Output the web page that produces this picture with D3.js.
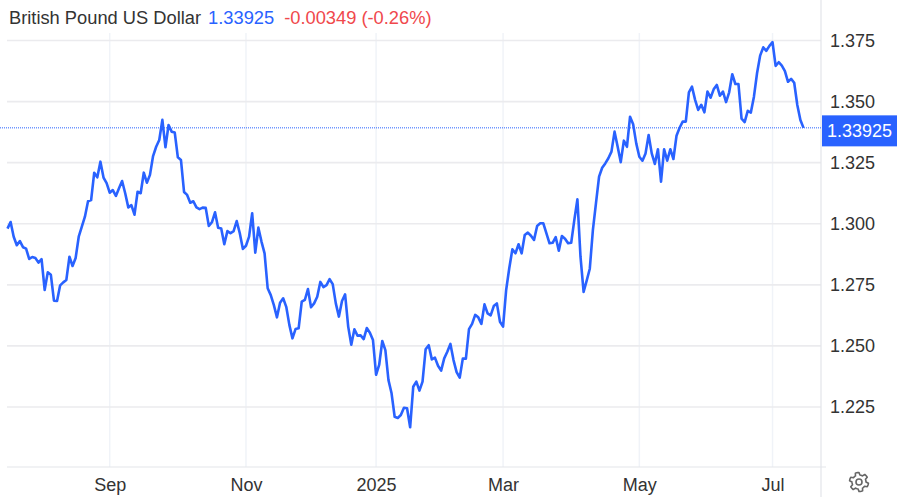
<!DOCTYPE html>
<html><head><meta charset="utf-8">
<script src="https://cdn.jsdelivr.net/npm/d3@7"></script>
<style>html,body{margin:0;padding:0;background:#fff}svg{display:block;font-family:"Liberation Sans",Arial,sans-serif}</style>
</head><body><div id="chart"></div>
<script>
const seriesName = "British Pound US Dollar";
const lastValue = 1.33925;
const lastLabel = "1.33925";
const changeLabel = "-0.00349 (-0.26%)";
const values = [
1.2980,1.3007,1.2947,1.2912,1.2929,1.2904,1.2898,1.2856,1.2864,1.2860,1.2841,1.2855,1.2729,1.2801,1.2791,1.2685,1.2684,1.2748,1.2760,1.2770,
1.2865,1.2827,1.2860,1.2947,1.2988,1.3029,1.3092,1.3097,1.3209,1.3190,1.3254,1.3189,1.3166,1.3127,1.3138,1.3114,1.3145,1.3175,1.3125,1.3067,
1.3076,1.3037,1.3131,1.3125,1.3209,1.3168,1.3200,1.3277,1.3315,1.3343,1.3425,1.3313,1.3404,1.3377,1.3373,1.3272,1.3261,1.3130,1.3118,1.3086,
1.3092,1.3067,1.3060,1.3066,1.3065,1.2991,1.3006,1.3047,1.2984,1.2981,1.2916,1.2970,1.2961,1.2970,1.3011,1.2961,1.2897,1.2910,1.2947,1.3043,
1.2882,1.2984,1.2927,1.2879,1.2736,1.2708,1.2667,1.2617,1.2677,1.2695,1.2660,1.2586,1.2531,1.2569,1.2572,1.2681,1.2688,1.2733,1.2658,1.2674,
1.2701,1.2762,1.2741,1.2749,1.2773,1.2753,1.2674,1.2620,1.2684,1.2711,1.2579,1.2505,1.2568,1.2542,1.2543,1.2528,1.2573,1.2554,1.2524,1.2382,
1.2422,1.2520,1.2483,1.2360,1.2306,1.2210,1.2205,1.2217,1.2247,1.2245,1.2167,1.2333,1.2354,1.2317,1.2354,1.2486,1.2503,1.2445,1.2452,1.2419,
1.2399,1.2449,1.2476,1.2508,1.2442,1.2393,1.2370,1.2448,1.2448,1.2569,1.2590,1.2627,1.2617,1.2590,1.2670,1.2633,1.2625,1.2663,1.2674,1.2599,
1.2579,1.2729,1.2818,1.2895,1.2879,1.2916,1.2879,1.2954,1.2964,1.2951,1.2934,1.2991,1.3002,1.3002,1.2961,1.2920,1.2922,1.2945,1.2890,1.2950,
1.2939,1.2920,1.2922,1.3015,1.3100,1.2865,1.2721,1.2767,1.2816,1.2974,1.3084,1.3193,1.3229,1.3247,1.3268,1.3295,1.3377,1.3315,1.3252,1.3340,
1.3315,1.3438,1.3407,1.3329,1.3274,1.3258,1.3288,1.3363,1.3288,1.3245,1.3305,1.3172,1.3305,1.3258,1.3305,1.3265,1.3360,1.3393,1.3418,1.3418,
1.3538,1.3561,1.3507,1.3466,1.3487,1.3456,1.3541,1.3516,1.3550,1.3568,1.3524,1.3541,1.3498,1.3538,1.3612,1.3572,1.3572,1.3430,1.3416,1.3462,
1.3455,1.3520,1.3616,1.3688,1.3722,1.3708,1.3728,1.3743,1.3646,1.3661,1.3647,1.3625,1.3581,1.3593,1.3577,1.3486,1.3425,1.33925
];
const yTicks = [1.225,1.25,1.275,1.3,1.325,1.35,1.375];
const xTickLabels = ["Sep","Nov","2025","Mar","May","Jul"];
const xTickIndex = [33,77,119,160,204,247];

const W=900,H=497;
const svg=d3.select("#chart").append("svg").attr("width",W).attr("height",H);
const x=d3.scaleLinear().domain([0,values.length-1]).range([7.5,803.5]);
const y=d3.scaleLinear().domain([1.225,1.375]).range([407,40.5]);
const plotL=7,plotR=821,plotB=467,plotT=33;

// grid
svg.append("g").selectAll("line").data(xTickIndex).join("line")
 .attr("x1",d=>x(d)).attr("x2",d=>x(d)).attr("y1",plotT).attr("y2",plotB)
 .attr("stroke","#f0f3f8").attr("stroke-width",1.5);
svg.append("g").selectAll("line").data(yTicks).join("line")
 .attr("x1",plotL).attr("x2",plotR).attr("y1",d=>y(d)).attr("y2",d=>y(d))
 .attr("stroke","#ebebee").attr("stroke-width",1.6);

// frame
svg.append("line").attr("x1",plotL).attr("x2",826).attr("y1",plotB).attr("y2",plotB).attr("stroke","#e3e5ea").attr("stroke-width",1.2);
svg.append("line").attr("x1",plotR).attr("x2",plotR).attr("y1",0).attr("y2",H).attr("stroke","#e3e5ea").attr("stroke-width",1.2);

// last-value dotted line
svg.append("line").attr("x1",0).attr("x2",plotR).attr("y1",y(lastValue)).attr("y2",y(lastValue))
 .attr("stroke","#2962ff").attr("stroke-width",1).attr("stroke-dasharray","1 1");

// series
svg.append("path").datum(values)
 .attr("d",d3.line().x((d,i)=>x(i)).y(d=>y(d)))
 .attr("fill","none").attr("stroke","#2962ff").attr("stroke-width",2.6).attr("stroke-linejoin","round");

// axes
const yAxis=svg.append("g").attr("transform",`translate(${plotR},0)`)
 .call(d3.axisRight(y).tickValues(yTicks).tickFormat(d3.format(".3f")).tickSize(0).tickPadding(9));
yAxis.select(".domain").remove();
yAxis.selectAll("text").attr("font-size",18).attr("fill","#333").attr("font-family","inherit");
const xAxis=svg.append("g").attr("transform",`translate(0,${plotB})`)
 .call(d3.axisBottom(x).tickValues(xTickIndex).tickFormat((d,i)=>xTickLabels[i]).tickSize(0).tickPadding(11));
xAxis.select(".domain").remove();
xAxis.selectAll("text").attr("font-size",18).attr("fill","#333").attr("font-family","inherit");

// last-value tag
svg.append("rect").attr("x",822).attr("y",y(lastValue)-12.5).attr("width",75).attr("height",31).attr("fill","#2962ff");
svg.append("text").attr("x",859.5).attr("y",y(lastValue)+9.5).attr("text-anchor","middle")
 .attr("font-size",18).attr("fill","#fff").text(lastLabel);

// title
const title=svg.append("text").attr("x",9).attr("y",24).attr("font-size",18.3);
title.append("tspan").attr("fill","#333").text(seriesName);
title.append("tspan").attr("dx",7).attr("fill","#2962ff").text(lastLabel);
title.append("tspan").attr("dx",10).attr("fill","#f0484c").text(changeLabel);

// gear icon
const gear=svg.append("g").attr("transform","translate(859,482)");
const teeth=d3.range(0,48).map(i=>{const a=i/48*2*Math.PI,s=(i+3)%8<4?9.5:7;return [s*Math.sin(a),-s*Math.cos(a)];});
gear.append("path").attr("d",d3.line().curve(d3.curveLinearClosed)(teeth)).attr("fill","none").attr("stroke","#666").attr("stroke-width",1.6).attr("stroke-linejoin","round");
gear.append("circle").attr("r",3).attr("fill","none").attr("stroke","#666").attr("stroke-width",1.6);
</script></body></html>
